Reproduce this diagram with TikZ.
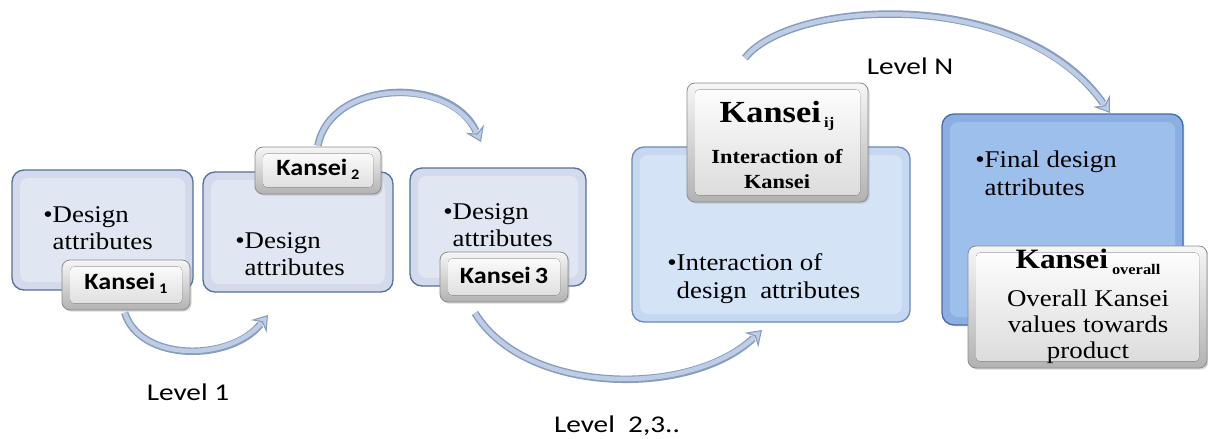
\documentclass[tikz,border=0pt]{standalone}
\usepackage{fontspec}
\setmainfont{Liberation Serif}[FakeStretch=1.12]
\newfontfamily\calib{Carlito}[FakeStretch=1.12]
\newfontfamily\calibw{Carlito}[FakeStretch=1.22]
\usetikzlibrary{arrows.meta,shadows}
\definecolor{edgeA}{RGB}{84,112,158}
\definecolor{outA}{RGB}{210,218,235}
\definecolor{inA}{RGB}{224,230,242}
\definecolor{edgeB}{RGB}{104,138,190}
\definecolor{outB}{RGB}{198,216,240}
\definecolor{inB}{RGB}{213,227,247}
\definecolor{edgeC}{RGB}{70,108,168}
\definecolor{outC}{RGB}{140,175,226}
\definecolor{inC}{RGB}{156,191,236}
\definecolor{lbledge}{RGB}{140,140,140}
\definecolor{lbltop}{RGB}{246,246,246}
\definecolor{lblbot}{RGB}{178,178,178}
\definecolor{lblin}{RGB}{218,218,218}
\definecolor{arrout}{RGB}{136,156,190}
\definecolor{arrin}{RGB}{190,205,230}
\begin{document}
\begin{tikzpicture}[x=0.75pt,y=-0.75pt,
  bevel/.style n args={3}{rounded corners=9pt, draw=#1, line width=1pt, fill=#2,
    path picture={\fill[#3, rounded corners=6pt]
      ([shift={(6pt,-6pt)}]path picture bounding box.north west) rectangle
      ([shift={(-6pt,6pt)}]path picture bounding box.south east);}},
  boxA/.style={bevel={edgeA}{outA}{inA}},
  boxB/.style={bevel={edgeB}{outB}{inB}},
  boxC/.style={bevel={edgeC}{outC}{inC}, drop shadow={opacity=0.25,shadow xshift=1pt,shadow yshift=-1pt}},
  panel/.style={anchor=north west, inner sep=0pt, outer sep=0pt},
  lbl/.style={rounded corners=6pt, draw=lbledge, line width=0.6pt, top color=lbltop, bottom color=lblbot,
    drop shadow={opacity=0.3,shadow xshift=1.2pt,shadow yshift=-1.2pt},
    path picture={\fill[top color=white, bottom color=lblin, rounded corners=3pt]
      ([shift={(6pt,-5pt)}]path picture bounding box.north west) rectangle
      ([shift={(-6pt,5pt)}]path picture bounding box.south east);}},
  body/.style={anchor=north west, inner sep=0pt, align=left, font=\fontsize{18}{20.5}\selectfont},
  ktext/.style={inner sep=0pt, font=\calib\bfseries\fontsize{17.5}{20}\selectfont},
  leveltext/.style={inner sep=0pt, font=\calibw\fontsize{18}{20}\selectfont},
  flow/.style={line width=3.4pt, draw=arrin,
    -{Stealth[length=11pt,width=15pt,inset=4pt,line width=0.8pt,color=arrout,fill=arrin]},
    preaction={draw=arrout, line width=5.6pt, -, shorten >=9pt}}
]
\useasboundingbox (0,0) rectangle (1208,439);
\fill[white] (0,0) rectangle (1208,439);

% level 1 boxes
\node[panel, boxA, minimum width=181*0.75pt, minimum height=120*0.75pt] (b1) at (12,170) {};
\node[body] (t1) at (43,206) {•Design\\\phantom{•}attributes};
\node[panel, lbl, minimum width=128*0.75pt, minimum height=50*0.75pt] (k1) at (62,260) {};
\node[ktext] (k1t) at ([yshift=1pt]k1.center) {Kansei\,\raisebox{-3pt}{\fontsize{11}{11}\selectfont 1}};

\node[panel, boxA, minimum width=190*0.75pt, minimum height=120*0.75pt] (b2) at (203,172) {};
\node[body] (t2) at (235,232) {•Design\\\phantom{•}attributes};
\node[panel, lbl, minimum width=126*0.75pt, minimum height=47*0.75pt] (k2) at (255,147) {};
\node[ktext] (k2t) at ([yshift=1pt]k2.center) {Kansei\,\raisebox{-3pt}{\fontsize{11}{11}\selectfont 2}};

\node[panel, boxA, minimum width=176*0.75pt, minimum height=118*0.75pt] (b3) at (410,168) {};
\node[body] (t3) at (443,203) {•Design\\\phantom{•}attributes};
\node[panel, lbl, minimum width=128*0.75pt, minimum height=50*0.75pt] (k3) at (440,252) {};
\node[ktext] (k3t) at ([yshift=1pt]k3.center) {Kansei\,3};

% interaction box
\node[panel, boxB, minimum width=278*0.75pt, minimum height=175*0.75pt] (b4) at (632,147) {};
\node[body, font=\fontsize{18}{21}\selectfont] (t4) at (667,253) {•Interaction of\\\phantom{•}design\ \ attributes};
\node[panel, lbl, minimum width=181*0.75pt, minimum height=119*0.75pt] (kij) at (687,83) {};
\node[inner sep=0pt, anchor=north, align=center, font=\bfseries\fontsize{15}{18.75}\selectfont] (kijt) at (777,101)
  {{\fontsize{23}{27}\selectfont Kansei}\,\raisebox{-4pt}{\fontsize{11}{11}\selectfont ij}\\[12pt]
   Interaction of\\
   Kansei};

% final box
\node[panel, boxC, minimum width=241*0.75pt, minimum height=211*0.75pt] (b5) at (942,114) {};
\node[body] (t5) at (975,151) {•Final design\\\phantom{•}attributes};
\node[panel, lbl, minimum width=239*0.75pt, minimum height=122*0.75pt] (kov) at (968,246) {};
\node[inner sep=0pt, anchor=north, align=center, font=\fontsize{18}{19.5}\selectfont] (kovt) at (1088,249)
  {{\bfseries\fontsize{21}{24}\selectfont Kansei}\,\raisebox{-4pt}{\bfseries\fontsize{11}{11}\selectfont overall}\\[9pt]
   Overall Kansei\\ values towards\\ product};

% level labels
\node[leveltext] (l1) at (188,392) {Level 1};
\node[leveltext] (l2) at (617,426) {Level\ \ 2,3..};
\node[leveltext] (ln) at (910,66) {Level N};

% connectors
\coordinate (a1e) at (268,315);
\coordinate (a2e) at (481,142);
\coordinate (a3s) at (475,313);
\coordinate (a3e) at (762,330);
\coordinate (a4s) at (745,58);
\coordinate (a4e) at (1110,113);
\draw[flow] ([xshift=-1pt,yshift=-2pt]k1.south) .. controls (140,362) and (230,362) .. (a1e);
\draw[flow] ([yshift=1pt]k2.north) .. controls (330,80) and (450,75) .. (a2e);
\draw[flow] (a3s) .. controls (525,395) and (690,398) .. (a3e);
\draw[flow] (a4s) .. controls (790,0) and (1020,-15) .. (a4e);
\end{tikzpicture}
\end{document}
